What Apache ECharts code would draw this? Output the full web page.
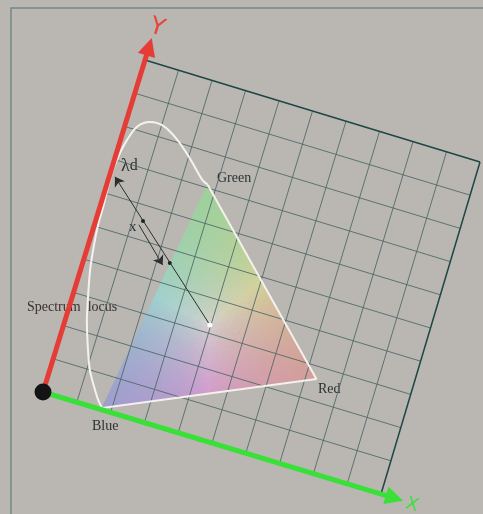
<!DOCTYPE html>
<html>
<head>
<meta charset="utf-8">
<script src="https://cdn.jsdelivr.net/npm/echarts@6/dist/echarts.min.js"></script>
<style>
html, body { margin: 0; padding: 0; background: #bab7b2; }
#chart { width: 483px; height: 514px; }
</style>
</head>
<body>
<div id="chart"></div>
<script>
// chromaticity values (x runs along the green axis, y along the red one)
const locusX = [0.173, 0.156, 0.134, 0.109, 0.087, 0.059, 0.045, 0.026, 0.016, 0.010, 0.009, 0.006, 0.005, 0.010, 0.018, 0.034, 0.065, 0.104, 0.152, 0.203, 0.257, 0.275]
const locusY = [0.005, 0.024, 0.057, 0.099, 0.153, 0.235, 0.291, 0.376, 0.447, 0.507, 0.560, 0.616, 0.670, 0.724, 0.765, 0.809, 0.833, 0.834, 0.809, 0.768, 0.717, 0.709]
const primaryNames = ['Blue', 'Green', 'Red']
const primaryX = [0.173, 0.275, 0.731]
const primaryY = [0.005, 0.709, 0.264]
const whitePoint = [0.397, 0.324]
const dominantPoint = [0.016, 0.653] // lambda d
const samplePoint = [0.129, 0.555] // x
const shiftedPoint = [0.237, 0.461] // xc
const shiftFrom = [0.121, 0.541]
const shiftTo = [0.219, 0.450]
const gridTicks = [0, 0.1, 0.2, 0.3, 0.4, 0.5, 0.6, 0.7, 0.8, 0.9, 1]

// the tilted plane: origin and the two axis vectors in screen units
const O = [43, 392]
const A = [338, 102]
const B = [102, -332]
const C = [-3, 0]
function proj(x, y) {
  return [
    O[0] + x * A[0] + y * B[0] + x * y * C[0],
    O[1] + x * A[1] + y * B[1] + x * y * C[1]
  ]
}

const bg = [186, 183, 178]
function mixColor(g, r) {
  const b = Math.max(0, 1 - g - r)
  const w = [r, g, b]
  const m = Math.max(r, g, b) || 1
  const a = 0.42
  const c = w.map((v, k) => Math.round(bg[k] * (1 - a) + (120 + 125 * v / m) * a))
  return 'rgb(' + c.join(',') + ')'
}

function renderTriangle(params, api) {
  const pts = primaryX.map((x, i) => api.coord(proj(x, primaryY[i])))
  const N = 36
  const P = (i, j) => {
    const g = i / N
    const r = j / N
    const b = 1 - g - r
    return [
      b * pts[0][0] + g * pts[1][0] + r * pts[2][0],
      b * pts[0][1] + g * pts[1][1] + r * pts[2][1]
    ]
  }
  const children = []
  const add = (points, g, r) => {
    const col = mixColor(g, r)
    children.push({ type: 'polygon', shape: { points }, style: { fill: col, stroke: col, lineWidth: 0.8 } })
  }
  for (let i = 0; i < N; i++) {
    for (let j = 0; j < N - i; j++) {
      add([P(i, j), P(i + 1, j), P(i, j + 1)], (3 * i + 1) / (3 * N), (3 * j + 1) / (3 * N))
      if (j < N - i - 1) {
        add([P(i + 1, j), P(i + 1, j + 1), P(i, j + 1)], (3 * i + 2) / (3 * N), (3 * j + 2) / (3 * N))
      }
    }
  }
  return { type: 'group', children }
}

function renderGrid(params, api) {
  const t = gridTicks[params.dataIndex]
  const edge = t === 1
  const style = { stroke: edge ? '#1d4646' : '#4a6666', lineWidth: edge ? 1.5 : 1, opacity: edge ? 1 : 0.85 }
  const a0 = api.coord(proj(t, 0))
  const a1 = api.coord(proj(t, 1))
  const b0 = api.coord(proj(0, t))
  const b1 = api.coord(proj(1, t))
  return {
    type: 'group',
    children: [
      { type: 'line', shape: { x1: a0[0], y1: a0[1], x2: a1[0], y2: a1[1] }, style },
      { type: 'line', shape: { x1: b0[0], y1: b0[1], x2: b1[0], y2: b1[1] }, style }
    ]
  }
}

const chart = echarts.init(document.getElementById('chart'))
const labelFont = 'Liberation Serif'
const textColor = '#2a3232'

chart.setOption({
  backgroundColor: '#bab7b2',
  animation: false,
  grid: { left: 0, right: 0, top: 0, bottom: 0 },
  xAxis: { type: 'value', min: 0, max: 483, show: false },
  yAxis: { type: 'value', min: 0, max: 514, inverse: true, show: false },
  graphic: [
    { type: 'polyline', shape: { points: [[11, 514], [11, 8], [483, 8]] }, style: { stroke: '#6f8c8a', lineWidth: 1.5, fill: null } },
    { type: 'polyline', shape: { points: [[13, 514], [13, 10], [483, 10]] }, style: { stroke: '#c7b3b1', lineWidth: 1, fill: null } },
    { type: 'text', x: 157, y: 28, rotation: -0.3, style: { text: 'Y', font: '24px DejaVu Sans', fill: '#e8443e', align: 'center', verticalAlign: 'middle' } },
    { type: 'text', x: 412, y: 505, rotation: -0.29, style: { text: 'X', font: '18px DejaVu Sans', fill: '#3ee03e', align: 'center', verticalAlign: 'middle' } },
    { type: 'text', x: 217, y: 178, style: { text: 'Green', font: '14px ' + labelFont, fill: textColor, verticalAlign: 'middle' } },
    { type: 'text', x: 27, y: 307, style: { text: 'Spectrum  locus', font: '14px ' + labelFont, fill: '#3a3030', verticalAlign: 'middle' } },
    { type: 'text', x: 214, y: 335, style: { text: 'White', font: '14px ' + labelFont, fill: textColor, verticalAlign: 'middle' } },
    { type: 'text', x: 318, y: 389, style: { text: 'Red', font: '14px ' + labelFont, fill: textColor, verticalAlign: 'middle' } },
    { type: 'text', x: 92, y: 426, style: { text: 'Blue', font: '14px ' + labelFont, fill: textColor, verticalAlign: 'middle' } },
    { type: 'text', x: 129, y: 227, style: { text: 'x', font: '15px ' + labelFont, fill: textColor, verticalAlign: 'middle' } },
    { type: 'text', x: 167, y: 274, style: { text: '{a|x}{b|c}', fill: textColor, verticalAlign: 'middle', rich: { a: { font: '16px ' + labelFont, fill: textColor }, b: { font: '13px ' + labelFont, fill: textColor, padding: [6, 0, 0, 0] } } } },
    { type: 'text', x: 121, y: 166, style: { text: '{a|λ}{b|d}', fill: textColor, verticalAlign: 'middle', rich: { a: { font: '18px ' + labelFont, fill: textColor }, b: { font: '16px ' + labelFont, fill: textColor } } } }
  ],
  series: [
    {
      type: 'custom',
      coordinateSystem: 'cartesian2d',
      silent: true,
      z: 1,
      data: [[0, 0]],
      renderItem: renderTriangle
    },
    {
      type: 'custom',
      coordinateSystem: 'cartesian2d',
      silent: true,
      z: 2,
      data: gridTicks.map(t => [t, t]),
      renderItem: renderGrid
    },
    {
      name: 'Spectrum locus',
      type: 'line',
      z: 3,
      smooth: 0.3,
      symbol: 'none',
      lineStyle: { color: '#f4f2ee', width: 2 },
      data: locusX.map((x, i) => proj(x, locusY[i]))
    },
    {
      name: 'Gamut',
      type: 'line',
      z: 3,
      symbol: 'none',
      lineStyle: { color: '#f4f0ec', width: 2 },
      data: [1, 2, 0].map(i => proj(primaryX[i], primaryY[i]))
    },
    {
      type: 'lines',
      coordinateSystem: 'cartesian2d',
      z: 4,
      symbol: ['none', 'triangle'],
      symbolSize: 18,
      data: [
        { coords: [proj(0, 0), proj(0, 1.04)], lineStyle: { color: '#e63c36', width: 5, opacity: 1 } },
        { coords: [proj(0, 0), proj(1.04, 0)], lineStyle: { color: '#38e038', width: 5, opacity: 1 } }
      ]
    },
    {
      type: 'lines',
      coordinateSystem: 'cartesian2d',
      z: 5,
      symbol: ['none', 'arrow'],
      symbolSize: 9,
      lineStyle: { color: '#2b2f2f', width: 1, opacity: 1 },
      data: [
        { coords: [proj(whitePoint[0], whitePoint[1]), proj(dominantPoint[0], dominantPoint[1])] },
        { coords: [proj(shiftFrom[0], shiftFrom[1]), proj(shiftTo[0], shiftTo[1])] }
      ]
    },
    {
      type: 'scatter',
      z: 6,
      symbolSize: 4,
      itemStyle: { color: '#1e2222', opacity: 1 },
      data: [proj(samplePoint[0], samplePoint[1]), proj(shiftedPoint[0], shiftedPoint[1])]
    },
    {
      type: 'scatter',
      z: 6,
      symbolSize: 5,
      itemStyle: { color: '#ffffff', opacity: 1 },
      data: [proj(whitePoint[0], whitePoint[1])]
    },
    {
      type: 'scatter',
      z: 7,
      symbolSize: 17,
      itemStyle: { color: '#141414', opacity: 1 },
      data: [proj(0, 0)]
    }
  ]
})
</script>
</body>
</html>
